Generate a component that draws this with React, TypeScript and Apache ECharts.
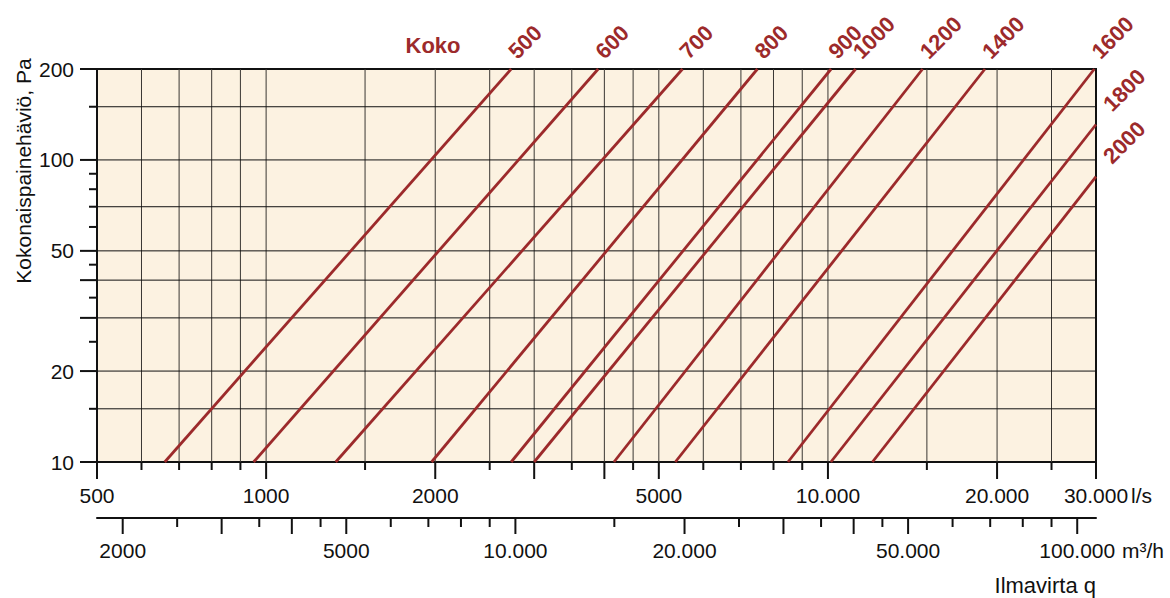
import React, { useEffect, useRef } from "react";
import * as echarts from "echarts";

// Duct sizes (Koko) and their pressure-loss lines
const sizes = ["500", "600", "700", "800", "900", "1000", "1200", "1400", "1600", "1800", "2000"];
const flowAt10Pa = [660, 950, 1330, 1970, 2730, 3000, 4160, 5350, 8490, 10120, 12000];
const flowEnd = [2730, 3900, 5510, 7490, 10130, 11200, 14740, 19030, 29800, 30000, 30000];
const pressureEnd = [200, 200, 200, 200, 200, 200, 200, 200, 200, 131, 88];
const pressureStart = 10;

// Axes (l/s, Pa, m3/h)
const flowGrid = [600, 700, 800, 900, 1000, 1500, 2000, 2500, 3000, 3500, 4000, 4500, 5000, 6000, 7000, 8000, 9000, 10000, 15000, 20000, 25000];
const pressureGrid = [15, 20, 30, 40, 50, 70, 100, 150];
const flowTicksMajor = [500, 1000, 2000, 3000, 4000, 5000, 10000, 20000, 30000];
const flowTicksMinor = [600, 700, 800, 900, 1500, 2500, 3500, 4500, 6000, 7000, 8000, 9000, 15000, 25000];
const flowLabels = [500, 1000, 2000, 5000, 10000, 20000, 30000];
const flowLabelTexts = ["500", "1000", "2000", "5000", "10.000", "20.000", "30.000"];
const pressureTicksMajor = [10, 20, 30, 40, 50, 100, 200];
const pressureTicksMinor = [15, 25, 35, 45, 60, 70, 80, 90, 150];
const pressureLabels = [10, 20, 50, 100, 200];
const pressureLabelTexts = ["10", "20", "50", "100", "200"];
const m3hTicksMajor = [2000, 3000, 4000, 5000, 10000, 20000, 30000, 40000, 50000, 100000];
const m3hTicksMinor = [2500, 3500, 4500, 6000, 7000, 8000, 9000, 15000, 25000, 35000, 45000, 60000, 70000, 80000, 90000];
const m3hLabels = [2000, 5000, 10000, 20000, 50000, 100000];
const m3hLabelTexts = ["2000", "5000", "10.000", "20.000", "50.000", "100.000"];

const X_MIN = 500;
const X_MAX = 30000;
const Y_MIN = 10;
const Y_MAX = 200;
const M3H_PER_LS = 3.6;

const RED = "#9c2a2b";
const INK = "#111111";
const GRIDC = "#3a3733";
const FONT = "'Liberation Sans', Arial, Helvetica, sans-serif";
const FS = 21;

function lineEl(x1: number, y1: number, x2: number, y2: number, stroke: string, lw: number) {
  return { type: "line", shape: { x1, y1, x2, y2 }, style: { stroke, lineWidth: lw } };
}

function textEl(x: number, y: number, text: string, align: string, extra: any = {}) {
  return {
    type: "text",
    x,
    y,
    style: {
      text,
      fill: INK,
      fontSize: FS,
      fontFamily: FONT,
      align,
      verticalAlign: "middle",
      ...extra,
    },
  };
}

export default function App() {
  const ref = useRef<HTMLDivElement>(null);

  useEffect(() => {
    if (!ref.current) return;
    const chart = echarts.init(ref.current, undefined, { renderer: "svg" });

    const common = { type: "custom", silent: true, xAxisIndex: 0, yAxisIndex: 0 };

    const option: any = {
      animation: false,
      grid: {
        left: 97,
        top: 69,
        width: 999,
        height: 393,
        show: true,
        backgroundColor: "#fcf2e1",
        borderColor: INK,
        borderWidth: 2,
      },
      xAxis: [
        {
          type: "log",
          logBase: 10,
          min: X_MIN,
          max: X_MAX,
          gridIndex: 0,
          position: "bottom",
          axisLine: { show: false },
          axisTick: { show: false },
          axisLabel: { show: false },
          splitLine: { show: false },
        },
        {
          type: "log",
          logBase: 10,
          min: X_MIN * M3H_PER_LS,
          max: X_MAX * M3H_PER_LS,
          gridIndex: 0,
          position: "bottom",
          offset: 56,
          axisLine: { show: true, onZero: false, lineStyle: { color: INK, width: 2 } },
          axisTick: { show: false },
          axisLabel: { show: false },
          splitLine: { show: false },
        },
      ],
      yAxis: [
        {
          type: "log",
          logBase: 10,
          min: Y_MIN,
          max: Y_MAX,
          gridIndex: 0,
          axisLine: { show: false },
          axisTick: { show: false },
          axisLabel: { show: false },
          splitLine: { show: false },
        },
      ],
      graphic: [
        {
          type: "text",
          x: 433,
          y: 45,
          style: { text: "Koko", fill: RED, fontSize: 22, fontWeight: "bold", fontFamily: FONT, align: "center", verticalAlign: "middle" },
        },
        {
          type: "text",
          x: 23,
          y: 171,
          rotation: Math.PI / 2,
          style: { text: "Kokonaispainehäviö, Pa", fill: INK, fontSize: FS, fontFamily: FONT, align: "center", verticalAlign: "middle" },
        },
        {
          type: "text",
          x: 1131,
          y: 495,
          style: { text: "l/s", fill: INK, fontSize: FS, fontFamily: FONT, align: "left", verticalAlign: "middle" },
        },
        {
          type: "text",
          x: 1122,
          y: 550,
          style: { text: "m³/h", fill: INK, fontSize: FS, fontFamily: FONT, align: "left", verticalAlign: "middle" },
        },
        {
          type: "text",
          x: 1096,
          y: 585,
          style: { text: "Ilmavirta q", fill: INK, fontSize: 22, fontFamily: FONT, align: "right", verticalAlign: "middle" },
        },
      ],
      series: [
        // vertical grid lines
        {
          ...common,
          z: 2,
          data: flowGrid.map((v) => [v, Y_MIN]),
          renderItem: (_p: any, api: any) => {
            const v = api.value(0);
            const a = api.coord([v, Y_MIN]);
            const b = api.coord([v, Y_MAX]);
            return lineEl(a[0], a[1], b[0], b[1], GRIDC, 1);
          },
        },
        // horizontal grid lines
        {
          ...common,
          z: 2,
          data: pressureGrid.map((v) => [X_MIN, v]),
          renderItem: (_p: any, api: any) => {
            const v = api.value(1);
            const a = api.coord([X_MIN, v]);
            const b = api.coord([X_MAX, v]);
            return lineEl(a[0], a[1], b[0], b[1], INK, 1);
          },
        },
        // x ticks (l/s)
        {
          ...common,
          z: 4,
          data: [...flowTicksMajor.map((v) => [v, Y_MIN, 1]), ...flowTicksMinor.map((v) => [v, Y_MIN, 0])],
          renderItem: (_p: any, api: any) => {
            const p = api.coord([api.value(0), Y_MIN]);
            const len = api.value(2) ? 17 : 8;
            return lineEl(p[0], p[1], p[0], p[1] + len, INK, 2);
          },
        },
        // x labels (l/s)
        {
          ...common,
          z: 4,
          data: flowLabels.map((v) => [v, Y_MIN]),
          renderItem: (params: any, api: any) => {
            const p = api.coord([api.value(0), Y_MIN]);
            return textEl(p[0], p[1] + 33, flowLabelTexts[params.dataIndex], "center");
          },
        },
        // y ticks
        {
          ...common,
          z: 4,
          data: [...pressureTicksMajor.map((v) => [X_MIN, v, 1]), ...pressureTicksMinor.map((v) => [X_MIN, v, 0])],
          renderItem: (_p: any, api: any) => {
            const p = api.coord([X_MIN, api.value(1)]);
            const len = api.value(2) ? 17 : 8;
            return lineEl(p[0] - len, p[1], p[0], p[1], INK, 2);
          },
        },
        // y labels
        {
          ...common,
          z: 4,
          data: pressureLabels.map((v) => [X_MIN, v]),
          renderItem: (params: any, api: any) => {
            const p = api.coord([X_MIN, api.value(1)]);
            return textEl(p[0] - 23, p[1], pressureLabelTexts[params.dataIndex], "right");
          },
        },
        // m3/h ticks
        {
          ...common,
          xAxisIndex: 1,
          z: 4,
          data: [...m3hTicksMajor.map((v) => [v, Y_MIN, 1]), ...m3hTicksMinor.map((v) => [v, Y_MIN, 0])],
          renderItem: (_p: any, api: any) => {
            const p = api.coord([api.value(0), Y_MIN]);
            const y0 = p[1] + 56;
            const len = api.value(2) ? 16 : 9;
            return lineEl(p[0], y0, p[0], y0 + len, INK, 2);
          },
        },
        // m3/h labels
        {
          ...common,
          xAxisIndex: 1,
          z: 4,
          data: m3hLabels.map((v) => [v, Y_MIN]),
          renderItem: (params: any, api: any) => {
            const p = api.coord([api.value(0), Y_MIN]);
            return textEl(p[0], p[1] + 88, m3hLabelTexts[params.dataIndex], "center");
          },
        },
        // size lines
        ...sizes.map((s, i) => ({
          type: "line",
          name: s,
          xAxisIndex: 0,
          yAxisIndex: 0,
          z: 5,
          silent: true,
          showSymbol: false,
          symbol: "none",
          lineStyle: { color: RED, width: 2.8 },
          data: [
            [flowAt10Pa[i], pressureStart],
            [flowEnd[i], pressureEnd[i]],
          ],
        })),
        // size labels
        {
          ...common,
          z: 6,
          data: sizes.map((_s, i) => [flowEnd[i], pressureEnd[i]]),
          renderItem: (params: any, api: any) => {
            const p = api.coord([api.value(0), api.value(1)]);
            const atRight = api.value(1) < Y_MAX;
            const off = atRight ? [11, -17] : [1, -14];
            return {
              type: "text",
              x: p[0] + off[0],
              y: p[1] + off[1],
              rotation: Math.PI / 4,
              style: {
                text: sizes[params.dataIndex],
                fill: RED,
                fontSize: 22,
                fontWeight: "bold",
                fontFamily: FONT,
                align: "left",
                verticalAlign: "middle",
              },
            };
          },
        },
      ],
    };

    chart.setOption(option);
    return () => chart.dispose();
  }, []);

  return (
    <div
      ref={ref}
      style={{ position: "absolute", left: 0, top: 0, width: 1170, height: 598, background: "#ffffff" }}
    />
  );
}
